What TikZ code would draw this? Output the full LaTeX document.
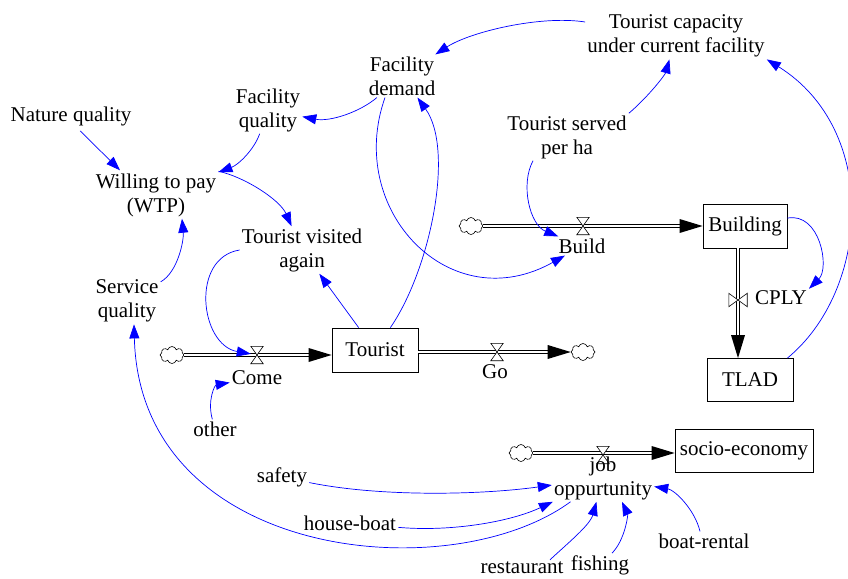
\documentclass[tikz,border=0pt]{standalone}
\usepackage{fontspec}
\setmainfont{Liberation Serif}
\usetikzlibrary{arrows.meta,shapes.symbols}
\begin{document}
\begin{tikzpicture}[x=1pt,y=1pt,
  every node/.style={font=\fontsize{21}{24}\selectfont},
  lbl/.style={align=center, inner sep=2pt},
  stockbox/.style={draw=black, line width=0.8pt, inner sep=0pt},
  cloudy/.style={cloud, cloud puffs=8, draw=black, fill=white, line width=0.6pt, minimum width=24pt, minimum height=17pt, inner sep=0pt},
  valvebox/.style={inner sep=0pt, minimum width=#1},
  pipe/.style={draw=black, line width=0.7pt, double=white, double distance=2pt},
  valvedraw/.style={draw=black, fill=white, line width=0.6pt},
  conn/.style={draw=blue, line width=0.7pt, -{Triangle[length=14pt,width=10pt]}}
]
\useasboundingbox (0,0) rectangle (848,-578);

% auxiliaries and stocks
\node[lbl] (tc) at (676,-36) {Tourist capacity\\under current facility};
\node[lbl] (fd) at (402,-76) {Facility\\demand};
\node[lbl] (fq) at (268,-110) {Facility\\quality};
\node[lbl] (nq) at (71,-116) {Nature quality};
\node[lbl] (wtp) at (156,-195) {Willing to pay\\(WTP)};
\node[lbl] (tsp) at (567,-137) {Tourist served\\per ha};
\node[lbl] (tva) at (302,-250) {Tourist visited\\again};
\node[lbl] (sq) at (127,-301) {Service\\quality};
\node[lbl] (other) at (215,-429) {other};
\node[lbl] (safety) at (282,-477) {safety};
\node[lbl] (houseboat) at (350,-523) {house-boat};
\node[lbl] (boatrental) at (704,-541) {boat-rental};
\node[lbl] (restaurant) at (522,-568) {restaurant};
\node[lbl] (fishing) at (600,-565) {fishing};

\node[stockbox, minimum width=84pt, minimum height=44pt] (building) at (745,-226) {Building};
\node[stockbox, minimum width=86pt, minimum height=43pt] (tlad) at (750,-380) {TLAD};
\node[stockbox, minimum width=86pt, minimum height=44pt] (tourist) at (375,-350) {Tourist};
\node[stockbox, minimum width=138pt, minimum height=43pt] (socio) at (744,-451) {socio-economy};

% clouds
\node[cloudy] (cb) at (471,-226) {};
\node[cloudy] (cc) at (172,-355) {};
\node[cloudy] (cg) at (583,-352) {};
\node[cloudy] (cj) at (521,-453) {};

% valve anchors
\node[valvebox=12pt, minimum height=17pt] (bv) at (583,-226) {};
\node[valvebox=12pt, minimum height=17pt] (cv) at (257,-355) {};
\node[valvebox=12pt, minimum height=17pt] (gv) at (497,-352) {};
\node[valvebox=12pt, minimum height=17pt] (jv) at (603,-455) {};
\node[valvebox=18pt, minimum height=13pt] (pv) at (738,-300) {};

% pipes
\draw[pipe, shorten >=21pt] (cb.east) -- (building.west);
\fill (building.west) -- ++(-23,7) -- ++(0,-14) -- cycle;
\draw[pipe, shorten >=21pt] (cc.east) -- ([yshift=-5pt]tourist.west);
\fill ([yshift=-5pt]tourist.west) -- ++(-23,7) -- ++(0,-14) -- cycle;
\draw[pipe, shorten >=21pt] ([yshift=-2pt]tourist.east) -- (cg.west);
\fill (cg.west) -- ++(-23,7) -- ++(0,-14) -- cycle;
\draw[pipe, shorten >=21pt] (cj.east) -- ([yshift=-2pt]socio.west);
\fill ([yshift=-2pt]socio.west) -- ++(-23,7) -- ++(0,-14) -- cycle;
\draw[pipe, shorten >=21pt] (building.south -| pv) -- (tlad.north -| pv);
\fill (tlad.north -| pv) -- ++(-7,23) -- ++(14,0) -- cycle;

% valves
\path[valvedraw] (bv.north west) -- (bv.north east) -- (bv.south west) -- (bv.south east) -- cycle;
\path[valvedraw] (cv.north west) -- (cv.north east) -- (cv.south west) -- (cv.south east) -- cycle;
\path[valvedraw] (gv.north west) -- (gv.north east) -- (gv.south west) -- (gv.south east) -- cycle;
\path[valvedraw] (jv.north west) -- (jv.north east) -- (jv.south west) -- (jv.south east) -- cycle;
\path[valvedraw] (pv.north west) -- (pv.south west) -- (pv.north east) -- (pv.south east) -- cycle;

% flow labels
\node[lbl] (buildl) at (582,-246) {Build};
\node[lbl] (comel) at (257,-378) {Come};
\node[lbl] (gol) at (495,-372) {Go};
\node[lbl] (cplyl) at (781,-298) {CPLY};
\node[lbl] (jobl) at (603,-478) {job\\oppurtunity};

% causal links
\draw[conn] (tc) .. controls (540,-15) and (470,-32) .. (fd);
\draw[conn] (tsp.north east) .. controls (648,-97) and (665,-75) .. (tc);
\draw[conn] (fd) .. controls (360,-112) and (330,-122) .. (fq);
\draw[conn] (fq) .. controls (254,-150) and (238,-165) .. (wtp);
\draw[conn] ([shift={(9,-3)}]nq.south) -- ([shift={(-36,1)}]wtp.north);
\draw[conn] (wtp.north east) .. controls (245,-177) and (280,-200) .. (tva);
\draw[conn] (sq) .. controls (178,-272) and (184,-240) .. ([xshift=26pt]wtp.south);
\draw[conn] (tva.west) .. controls (190,-258) and (200,-345) .. (cv);
\draw[conn] (other) .. controls (207,-400) and (215,-385) .. (comel);
\draw[conn] (tourist) -- (tva);
\draw[conn] (tourist) .. controls (430,-270) and (455,-150) .. (fd);
\draw[conn] ([xshift=-17pt]fd.south) .. controls (345,-210) and (450,-320) .. (buildl);
\draw[conn] ([xshift=-34pt]tsp.south) .. controls (520,-185) and (530,-225) .. (buildl);
\draw[conn] (building) .. controls (820,-212) and (830,-268) .. (cplyl.north east);
\draw[conn] ([xshift=-6pt]tlad.north east) .. controls (870,-290) and (880,-130) .. (tc.south east);
\draw[conn] (jobl) .. controls (450,-590) and (140,-560) .. ([xshift=7pt]sq.south);
\draw[conn] (safety) .. controls (380,-497) and (480,-495) .. (jobl);
\draw[conn] (houseboat) .. controls (450,-532) and (510,-522) .. (jobl);
\draw[conn] ([xshift=28pt]restaurant.north) .. controls (568,-543) and (590,-525) .. (jobl);
\draw[conn] ([xshift=12pt]fishing.north) .. controls (625,-540) and (628,-515) .. ([xshift=19pt]jobl.south);
\draw[conn] ([xshift=-4pt]boatrental.north) .. controls (695,-510) and (675,-490) .. (jobl);
\end{tikzpicture}
\end{document}
